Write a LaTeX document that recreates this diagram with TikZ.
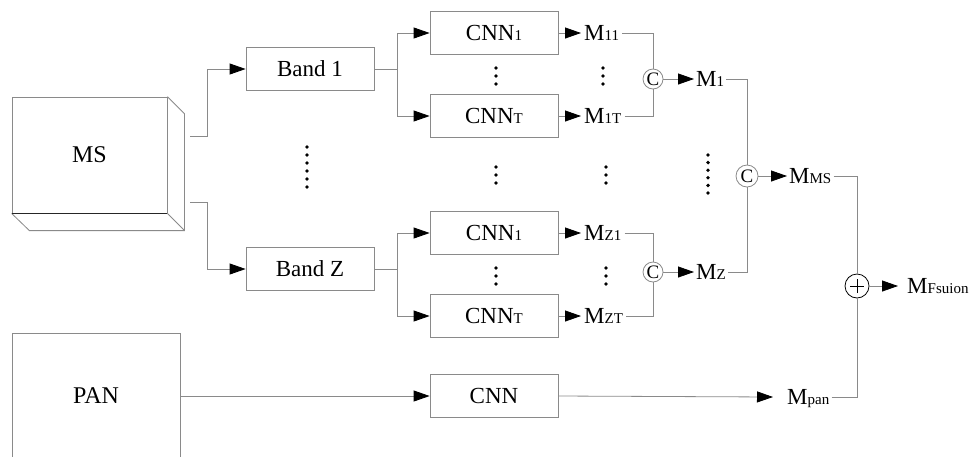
\documentclass[tikz,border=0pt]{standalone}
\usepackage{fontspec}
\setmainfont{Liberation Serif}
\usetikzlibrary{arrows.meta}
\definecolor{wiregray}{HTML}{8A8A8A}
\newcommand\mainsz{\fontsize{23}{25}\selectfont}
\newcommand\bigsz{\fontsize{24}{26}\selectfont}
\newcommand\catsz{\fontsize{19}{20}\selectfont}
\newcommand\lowtext[1]{{\fontsize{15}{15}\selectfont #1}}
\begin{document}
\begin{tikzpicture}[x=1pt,y=-1pt,
  wire/.style={draw=wiregray, line width=0.8pt},
  arr/.style={wire, -{Triangle[length=16pt,width=11pt,color=black]}},
  box/.style={draw=wiregray, line width=0.8pt, minimum width=128pt, minimum height=43pt,
    inner sep=0pt, font=\mainsz, text height=15.2pt, text depth=0pt},
  mlab/.style={anchor=west, inner xsep=3pt, inner ysep=0pt, font=\mainsz,
    text height=15.2pt, text depth=0pt},
  cat/.style={circle, draw=wiregray, line width=0.8pt, minimum size=20pt, inner sep=0pt, font=\catsz},
  sumnode/.style={circle, draw=black, line width=0.8pt, minimum size=24pt, inner sep=0pt,
    path picture={
      \draw[line width=0.8pt] ([xshift=-7pt]path picture bounding box.center) -- ([xshift=7pt]path picture bounding box.center);
      \draw[line width=0.8pt] ([yshift=-7pt]path picture bounding box.center) -- ([yshift=7pt]path picture bounding box.center);
    }},
]
\clip (0,0) rectangle (971,456);

% MS block with its 3D edges
\node[draw=wiregray, line width=0.8pt, minimum width=155pt, minimum height=116pt, inner sep=0pt,
  font=\bigsz] (ms) at (89.5,155) {MS};
\draw[wire] (ms.north east) -- ++(17,17) -- ++(0,117) -- ++(-155,0) -- (ms.south west);
\draw[wire] (ms.south east) -- ++(17,17);
\draw[line width=0.9pt, black!85] (ms.south west) -- (ms.south east);
\coordinate (msA) at (190,136);
\coordinate (msB) at (190,202);

% PAN block (runs off the lower edge)
\node[draw=wiregray, line width=0.8pt, minimum width=168pt, minimum height=128pt, anchor=north west,
  inner sep=0pt] (panbox) at (12,333) {};
\node[font=\bigsz, text height=15.8pt, text depth=0pt, inner sep=0pt] (pan) at (96,396) {PAN};

% band boxes
\node[box] (band1) at (310,69) {Band 1};
\node[box] (bandZ) at (310,269) {Band Z};

% CNN boxes
\node[box] (c11) at (494,33) {CNN\lowtext{1}};
\node[box] (c1t) at (494,116) {CNN\lowtext{T}};
\node[box] (cz1) at (494,233) {CNN\lowtext{1}};
\node[box] (czt) at (494,316) {CNN\lowtext{T}};
\node[box] (cpan) at (494,396) {CNN};

% feature labels
\node[mlab] (m11) at (581,33) {M\lowtext{11}};
\node[mlab] (m1t) at (581,116) {M\lowtext{1T}};
\node[mlab] (mz1) at (581,233) {M\lowtext{Z1}};
\node[mlab] (mzt) at (581,316) {M\lowtext{ZT}};
\node[mlab, inner xsep=2pt] (m1) at (694,79) {M\lowtext{1}};
\node[mlab, inner xsep=2pt] (mz) at (694,272) {M\lowtext{Z}};
\node[mlab, inner xsep=2pt] (mms) at (787,176) {M\lowtext{MS}};
\node[mlab, inner xsep=2pt] (mpan) at (785,397) {M\lowtext{pan}};
\node[mlab, inner xsep=2pt] (mf) at (905,286) {M\lowtext{Fsuion}};

% concatenation and sum nodes
\node[cat] (cc1) at (653,79) {C};
\node[cat] (cc2) at (653,272) {C};
\node[cat, minimum size=22pt] (ccms) at (747,176) {C};
\node[sumnode] (plus) at (857,286) {};

% MS to bands
\draw[arr] (msA) -- ++(17,0) |- (band1.west);
\draw[arr] (msB) -- ++(17,0) |- (bandZ.west);

% bands to CNNs
\draw[wire] (band1.east) -- ++(23,0) coordinate (k1);
\draw[arr] (k1) |- (c11.west);
\draw[arr] (k1) |- (c1t.west);
\draw[wire] (bandZ.east) -- ++(23,0) coordinate (kz);
\draw[arr] (kz) |- (cz1.west);
\draw[arr] (kz) |- (czt.west);

% CNNs to features
\draw[arr] (c11.east) -- (m11.west);
\draw[arr] (c1t.east) -- (m1t.west);
\draw[arr] (cz1.east) -- (mz1.west);
\draw[arr] (czt.east) -- (mzt.west);

% per-band concatenation
\draw[wire] (m11.east) -| (cc1.north);
\draw[wire] (m1t.east) -| (cc1.south);
\draw[arr] (cc1.east) -- (m1.west);
\draw[wire] (mz1.east) -| (cc2.north);
\draw[wire] (mzt.east) -| (cc2.south);
\draw[arr] (cc2.east) -- (mz.west);

% concatenation over bands
\draw[wire] (m1.east) -| (ccms.north);
\draw[wire] (mz.east) -| (ccms.south);
\draw[arr] (ccms.east) -- (mms.west);

% PAN branch
\draw[arr] (panbox.east |- pan) -- (cpan.west);
\draw[arr] (cpan.east) -- ([xshift=-12pt]mpan.west);

% fusion
\draw[wire] (mms.east) -| (plus.north);
\draw[wire] (mpan.east) -| (plus.south);
\draw[arr] (plus.east) -- ([xshift=-7pt]mf.west);

% ellipsis dots
\foreach \y in {147,155,...,187} \fill (307,\y) circle (1.9pt);
\foreach \x in {496,603} \foreach \y in {68,76,84} \fill (\x,\y) circle (1.9pt);
\foreach \x in {496,606} \foreach \y in {167,175,183} \fill (\x,\y) circle (1.9pt);
\foreach \x in {496,606} \foreach \y in {268,276,284} \fill (\x,\y) circle (1.9pt);
\foreach \y in {155,162.6,...,194} \fill (708,\y) circle (1.9pt);
\end{tikzpicture}
\end{document}
